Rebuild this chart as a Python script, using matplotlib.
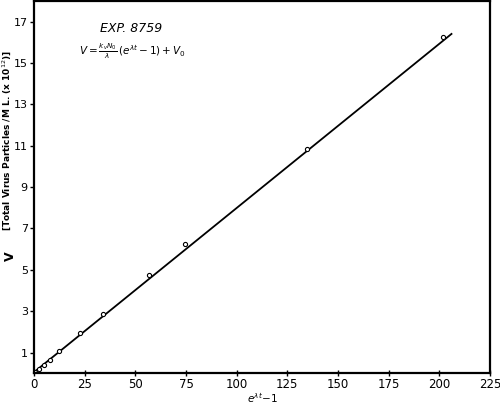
import matplotlib
matplotlib.use("Agg")
import matplotlib.pyplot as plt

# data
x_pts = [0.5, 2.6, 5.1, 7.9, 12.3, 22.7, 33.9, 56.7, 74.5, 134.7, 201.6]
v_pts = [0.05, 0.22, 0.41, 0.65, 1.08, 1.95, 2.86, 4.75, 6.25, 10.86, 16.27]
line_x = [0, 206]
line_y = [0.05, 16.4]
x_ticks = [0, 25, 50, 75, 100, 125, 150, 175, 200, 225]
y_ticks = [1, 3, 5, 7, 9, 11, 13, 15, 17]

plt.rcParams['font.family'] = ['DejaVu Sans']
fig = plt.figure(figsize=(5, 4.07), dpi=100)
ax = fig.add_axes([0.068, 0.083, 0.912, 0.915])

ax.plot(line_x, line_y, color='black', lw=1.3)
ax.plot(x_pts, v_pts, 'o', mfc='white', mec='black', ms=3, mew=0.8)

ax.set_xlim(0, 225)
ax.set_ylim(0, 18)
ax.set_xticks(x_ticks)
ax.set_yticks(y_ticks)
ax.tick_params(axis='both', labelsize=8.5, length=4, width=1, direction='out', pad=2)
ax.tick_params(axis='y', labelsize=8, length=3, pad=1.5)
ax.tick_params(axis='x', direction='inout', length=5, pad=1)
for s in ax.spines.values():
    s.set_linewidth(1.6)

ax.set_xlabel(r'$e^{\lambda t}$$-1$', fontsize=7.5, labelpad=0)
fig.text(0.021, 0.37, 'V', rotation=90, fontsize=9, fontweight='bold', va='center', ha='center')
fig.text(0.013, 0.655, r'[Total Virus Particles /M L. (x 10$^{12}$)]', rotation=90,
         fontsize=6.5, fontweight='bold', va='center', ha='center')

ax.text(0.213, 0.915, 'EXP. 8759', transform=ax.transAxes, fontsize=9, style='italic', ha='center')
ax.text(0.215, 0.855, r'$V=\frac{k_v N_0}{\lambda}\,(e^{\lambda t}-1)+V_0$', transform=ax.transAxes,
        fontsize=7.5, ha='center')

fig.savefig('out.png', dpi=100)
